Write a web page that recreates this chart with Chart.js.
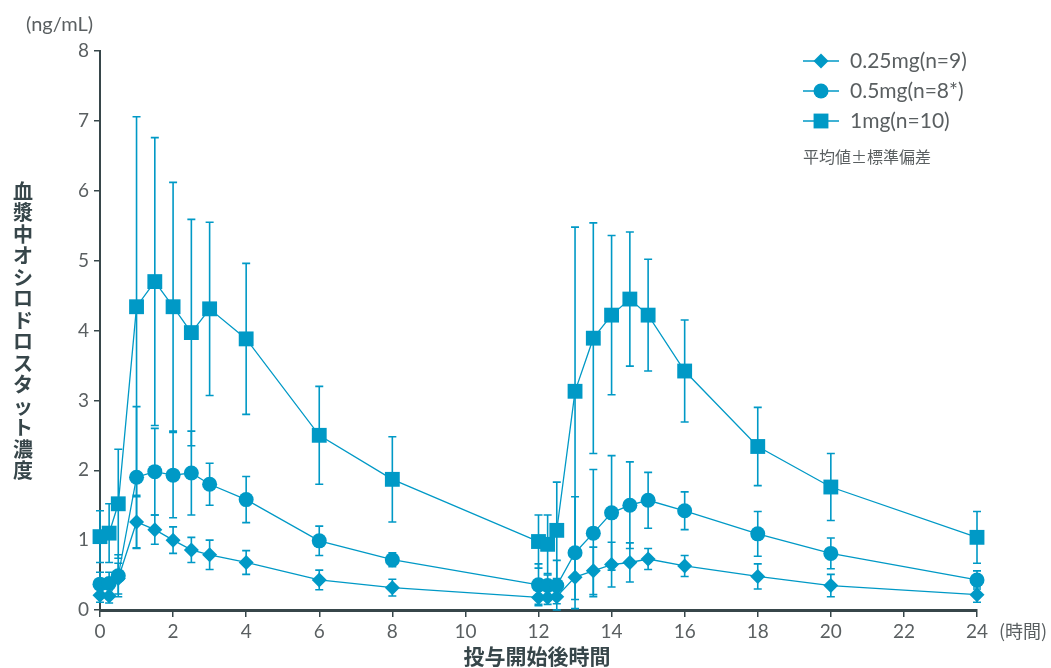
<!DOCTYPE html>
<html><head><meta charset="utf-8">
<script src="https://cdn.jsdelivr.net/npm/chart.js@4.4.1/dist/chart.umd.min.js"></script>
<style>html,body{margin:0;padding:0;background:#fff;}#wrap{width:1051px;height:668px;position:relative;}</style>
</head><body>
<div id="wrap"><canvas id="c" width="1051" height="668"></canvas></div>
<script>
// ---- data ----
const times = [0,0.25,0.5,1,1.5,2,2.5,3,4,6,8,12,12.25,12.5,13,13.5,14,14.5,15,16,18,20,24];
const seriesNames = ['0.25mg(n=9)', '0.5mg(n=8*)', '1mg(n=10)'];
const mean025 = [0.21,0.20,0.45,1.26,1.15,1.00,0.86,0.79,0.68,0.43,0.32,0.18,0.18,0.19,0.47,0.56,0.65,0.68,0.73,0.63,0.48,0.35,0.22];
const sd025   = [0.10,0.10,0.22,0.38,0.21,0.19,0.18,0.21,0.17,0.14,0.12,0.10,0.10,0.10,0.32,0.34,0.32,0.28,0.15,0.15,0.18,0.16,0.11];
const mean05  = [0.37,0.38,0.49,1.90,1.98,1.93,1.96,1.80,1.58,0.99,0.72,0.36,0.35,0.35,0.82,1.10,1.39,1.50,1.57,1.42,1.09,0.81,0.43];
const sd05    = [0.17,0.16,0.30,1.01,0.62,0.61,0.60,0.30,0.33,0.21,0.10,0.30,0.15,0.36,0.80,0.91,0.82,0.62,0.40,0.27,0.32,0.22,0.13];
const mean1   = [1.05,1.10,1.52,4.34,4.70,4.34,3.97,4.31,3.88,2.50,1.87,0.98,0.94,1.14,3.13,3.89,4.22,4.45,4.22,3.42,2.34,1.76,1.04];
const sd1     = [0.37,0.42,0.78,2.72,2.06,1.78,1.62,1.24,1.08,0.70,0.61,0.38,0.42,0.69,2.35,1.65,1.14,0.96,0.80,0.73,0.56,0.48,0.37];
const xTicks = [0,2,4,6,8,10,12,14,16,18,20,22,24];
const yTicks = [0,1,2,3,4,5,6,7,8];
const yTitle = '血漿中オシロドロスタット濃度';
const xTitle = '投与開始後時間';
const yUnit = '(ng/mL)';
const xUnit = '(時間)';
const sdNote = '平均値±標準偏差';

const TEAL = '#0099c6';
const AXIS = '#37464a';
const TXT = '#5a5f61';
const styles = ['rectRot','circle','rect'];
const radii = [7.5,7.5,10.5];
const means = [mean025, mean05, mean1];
const sds = [sd025, sd05, sd1];

const datasets = means.map((m, k) => ({
  label: seriesNames[k],
  data: times.map((t, i) => ({x: t, y: m[i]})),
  sds: sds[k],
  borderColor: TEAL,
  backgroundColor: TEAL,
  borderWidth: 1.3,
  pointStyle: styles[k],
  pointRadius: radii[k],
  pointBorderWidth: 0,
  pointBackgroundColor: TEAL,
  pointHoverRadius: radii[k],
  tension: 0,
  clip: false
}));

const errorBars = {
  id: 'errorBars',
  beforeDatasetsDraw(chart) {
    const ctx = chart.ctx, xs = chart.scales.x, ys = chart.scales.y;
    ctx.save();
    ctx.strokeStyle = TEAL;
    ctx.lineWidth = 1.6;
    chart.data.datasets.forEach(ds => {
      ds.data.forEach((p, i) => {
        const sd = ds.sds[i];
        const px = xs.getPixelForValue(p.x);
        const top = ys.getPixelForValue(p.y + sd);
        const bot = ys.getPixelForValue(Math.max(0, p.y - sd));
        ctx.beginPath();
        ctx.moveTo(px, top); ctx.lineTo(px, bot);
        ctx.moveTo(px - 4, top); ctx.lineTo(px + 4, top);
        ctx.moveTo(px - 4, bot); ctx.lineTo(px + 4, bot);
        ctx.stroke();
      });
    });
    ctx.restore();
  }
};

const decorations = {
  id: 'decorations',
  afterDraw(chart) {
    const ctx = chart.ctx;
    ctx.save();
    // units
    ctx.fillStyle = TXT;
    ctx.font = '20px Lato, "Noto Sans CJK JP", sans-serif';
    ctx.textBaseline = 'middle';
    ctx.textAlign = 'left';
    ctx.fillText(yUnit, 26, 25);
    ctx.font = '18px "Noto Sans CJK JP", sans-serif';
    ctx.fillText(xUnit, 999, 631);
    // x title
    ctx.fillStyle = AXIS;
    ctx.font = 'bold 21px "Noto Sans CJK JP", sans-serif';
    ctx.textAlign = 'center';
    ctx.fillText(xTitle, 537, 656);
    // y title, stacked upright characters
    const chars = Array.from(yTitle);
    const step = 21.5;
    const y0 = 191;
    ctx.font = 'bold 20px "Noto Sans CJK JP", sans-serif';
    chars.forEach((ch, i) => ctx.fillText(ch, 23, y0 + i * step));
    // legend
    const rows = [61, 91, 121];
    ctx.textAlign = 'left';
    rows.forEach((ry, k) => {
      ctx.strokeStyle = TEAL;
      ctx.lineWidth = 1.6;
      ctx.beginPath(); ctx.moveTo(803, ry); ctx.lineTo(839, ry); ctx.stroke();
      ctx.fillStyle = TEAL;
      Chart.helpers.drawPoint(ctx, {pointStyle: styles[k], radius: radii[k], borderWidth: 0}, 821, ry);
      ctx.fillStyle = TXT;
      ctx.font = '21px Lato, "Noto Sans CJK JP", sans-serif';
      ctx.fillText(seriesNames[k], 850, ry);
    });
    ctx.fillStyle = TXT;
    ctx.font = '16px "Noto Sans CJK JP", sans-serif';
    ctx.fillText(sdNote, 803, 157);
    ctx.restore();
  }
};

new Chart(document.getElementById('c'), {
  type: 'line',
  data: { datasets },
  options: {
    responsive: false,
    animation: false,
    devicePixelRatio: 1,
    layout: { padding: { top: 51, right: 74, left: 0, bottom: 0 } },
    plugins: { legend: { display: false }, tooltip: { enabled: false } },
    scales: {
      x: {
        type: 'linear', min: 0, max: 24,
        afterFit(s) { s.height = 58; },
        afterBuildTicks(s) { s.ticks = xTicks.map(v => ({value: v})); },
        border: { display: true, color: AXIS, width: 3 },
        grid: { drawOnChartArea: false, drawTicks: true, tickLength: 7, color: AXIS, lineWidth: 1.5 },
        ticks: { color: TXT, font: { family: 'Lato', size: 19 }, padding: 3 }
      },
      y: {
        type: 'linear', min: 0, max: 8,
        afterFit(s) { s.width = 100; },
        afterBuildTicks(s) { s.ticks = yTicks.map(v => ({value: v})); },
        border: { display: true, color: AXIS, width: 2 },
        grid: { drawOnChartArea: false, drawTicks: true, tickLength: 6, color: AXIS, lineWidth: 1.5 },
        ticks: { color: TXT, font: { family: 'Lato', size: 19 }, padding: 5 }
      }
    }
  },
  plugins: [errorBars, decorations]
});
</script>
</body></html>
